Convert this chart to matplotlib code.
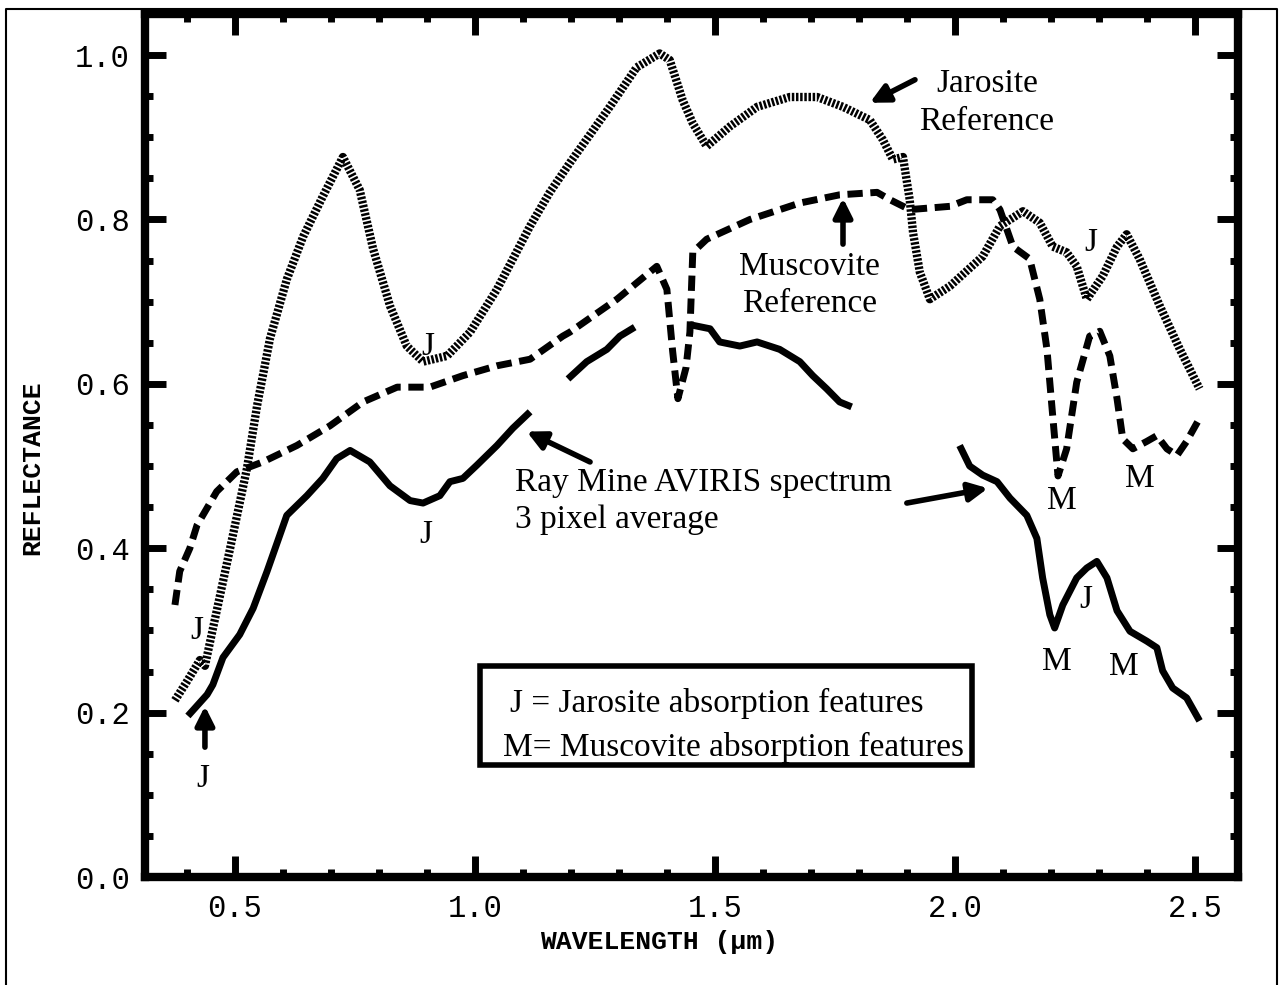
import matplotlib
matplotlib.use("Agg")
import matplotlib.pyplot as plt
from matplotlib.lines import Line2D
from matplotlib.patches import Rectangle
from matplotlib.ticker import MultipleLocator, FormatStrFormatter

# --- data (wavelength in um, reflectance) ---
jar_wl = [0.375, 0.400, 0.427, 0.4375, 0.490, 0.525, 0.546, 0.573, 0.608, 0.642,
          0.683, 0.725, 0.760, 0.788, 0.823, 0.858, 0.892, 0.942, 0.990, 1.046,
          1.115, 1.156, 1.198, 1.281, 1.337, 1.385, 1.406, 1.433, 1.454, 1.483,
          1.531, 1.588, 1.656, 1.713, 1.767, 1.823, 1.850, 1.871, 1.892, 1.906,
          1.913, 1.927, 1.948, 1.990, 2.058, 2.094, 2.142, 2.177, 2.204, 2.233,
          2.254, 2.275, 2.308, 2.338, 2.358, 2.385, 2.427, 2.469, 2.510]
jar_refl = [0.215, 0.238, 0.264, 0.257, 0.400, 0.497, 0.573, 0.655, 0.727, 0.779,
            0.828, 0.876, 0.836, 0.764, 0.695, 0.646, 0.627, 0.634, 0.663, 0.715,
            0.792, 0.833, 0.869, 0.937, 0.985, 1.002, 0.994, 0.945, 0.917, 0.889,
            0.913, 0.937, 0.949, 0.949, 0.937, 0.921, 0.897, 0.873, 0.876, 0.824,
            0.784, 0.736, 0.703, 0.719, 0.755, 0.792, 0.810, 0.796, 0.767, 0.760,
            0.743, 0.703, 0.731, 0.767, 0.782, 0.752, 0.695, 0.642, 0.594]

mus_wl = [0.375, 0.385, 0.406, 0.421, 0.462, 0.504, 0.558, 0.629, 0.698, 0.767,
          0.838, 0.906, 0.975, 1.046, 1.115, 1.183, 1.198, 1.296, 1.379, 1.400,
          1.412, 1.423, 1.440, 1.448, 1.454, 1.483, 1.573, 1.677, 1.760, 1.838,
          1.865, 1.906, 1.990, 2.025, 2.079, 2.094, 2.121, 2.156, 2.177, 2.192,
          2.204, 2.215, 2.233, 2.254, 2.281, 2.302, 2.323, 2.338, 2.350, 2.371,
          2.400, 2.421, 2.442, 2.463, 2.483, 2.506]
mus_refl = [0.331, 0.372, 0.400, 0.428, 0.469, 0.493, 0.505, 0.525, 0.549, 0.578,
            0.596, 0.596, 0.610, 0.622, 0.630, 0.658, 0.663, 0.703, 0.743, 0.715,
            0.640, 0.582, 0.620, 0.663, 0.760, 0.776, 0.800, 0.820, 0.830, 0.833,
            0.824, 0.812, 0.816, 0.824, 0.824, 0.812, 0.767, 0.752, 0.703, 0.642,
            0.561, 0.488, 0.521, 0.602, 0.658, 0.664, 0.634, 0.582, 0.533, 0.521,
            0.530, 0.537, 0.521, 0.513, 0.530, 0.554]

# Ray Mine AVIRIS spectrum, broken at the atmospheric water bands
ray1_wl = [0.402, 0.442, 0.454, 0.475, 0.510, 0.538, 0.567, 0.608, 0.650, 0.683,
           0.712, 0.740, 0.781, 0.823, 0.865, 0.892, 0.927, 0.948, 0.975, 1.004,
           1.046, 1.079, 1.115]
ray1_refl = [0.196, 0.222, 0.234, 0.267, 0.295, 0.327, 0.372, 0.440, 0.464, 0.485,
             0.509, 0.519, 0.505, 0.476, 0.458, 0.455, 0.464, 0.481, 0.485, 0.501,
             0.525, 0.546, 0.566]
ray2_wl = [1.194, 1.233, 1.275, 1.302, 1.333]
ray2_refl = [0.606, 0.627, 0.642, 0.658, 0.669]
ray3_wl = [1.448, 1.490, 1.510, 1.552, 1.588, 1.635, 1.677, 1.704, 1.733, 1.760, 1.785]
ray3_refl = [0.672, 0.667, 0.651, 0.646, 0.651, 0.642, 0.627, 0.610, 0.594, 0.578, 0.572]
ray4_wl = [2.010, 2.031, 2.058, 2.088, 2.115, 2.150, 2.171, 2.183, 2.198, 2.208,
           2.225, 2.254, 2.275, 2.296, 2.317, 2.338, 2.365, 2.400, 2.421, 2.433,
           2.454, 2.483, 2.510]
ray4_refl = [0.525, 0.500, 0.489, 0.481, 0.461, 0.440, 0.412, 0.364, 0.319, 0.303,
             0.331, 0.364, 0.376, 0.384, 0.364, 0.324, 0.299, 0.287, 0.279, 0.251,
             0.230, 0.218, 0.190]

x_ticks = [0.5, 1.0, 1.5, 2.0, 2.5]
y_ticks = [0.0, 0.2, 0.4, 0.6, 0.8, 1.0]

SERIF = "Liberation Serif"
MONO = "Liberation Mono"

fig = plt.figure(figsize=(12.85, 9.85), dpi=100)
ax = fig.add_axes([0.1128, 0.1096, 0.8506, 0.8762])

# jarosite: fine hatched line, muscovite: heavy dashes, AVIRIS: solid
ax.plot(jar_wl, jar_refl, color="black", lw=6, linestyle=(0, (0.3, 0.2)),
        dash_capstyle="butt", solid_joinstyle="round")
ax.plot(mus_wl, mus_refl, color="black", lw=5, linestyle=(0, (2.2, 1.1)),
        dash_capstyle="butt")
for wl, r in [(ray1_wl, ray1_refl), (ray2_wl, ray2_refl),
              (ray3_wl, ray3_refl), (ray4_wl, ray4_refl)]:
    ax.plot(wl, r, color="black", lw=5, solid_capstyle="butt", solid_joinstyle="round")

ax.set_xlim(0.3125, 2.59)
ax.set_ylim(0.0, 1.05)
ax.set_xticks(x_ticks)
ax.set_yticks(y_ticks)
ax.xaxis.set_minor_locator(MultipleLocator(0.1))
ax.yaxis.set_minor_locator(MultipleLocator(0.05))
ax.xaxis.set_major_formatter(FormatStrFormatter("%.1f"))
ax.yaxis.set_major_formatter(FormatStrFormatter("%.1f"))
ax.tick_params(which="both", direction="in", top=True, right=True, color="black")
ax.tick_params(which="major", length=15, width=5)
ax.tick_params(which="minor", length=6, width=5)
ax.tick_params(axis="x", which="major", pad=12)
ax.tick_params(axis="y", which="major", pad=11)
for lab in ax.get_xticklabels() + ax.get_yticklabels():
    lab.set_fontfamily(MONO)
    lab.set_fontsize(22)
for sp in ax.spines.values():
    sp.set_linewidth(6)

fig.text(0.025, 0.525, "REFLECTANCE", rotation=90, ha="center", va="center",
         family=MONO, fontweight="bold", fontsize=19)
fig.text(0.513, 0.044, "WAVELENGTH (\u00b5m)", ha="center", va="center",
         family=MONO, fontweight="bold", fontsize=19)

# annotations
txt = dict(family=SERIF, fontsize=24, color="black")
arrow = dict(arrowstyle="-|>", lw=4, color="black", mutation_scale=28,
             shrinkA=0, shrinkB=0)

ax.text(2.067, 0.942, "Jarosite\nReference", ha="center", va="center",
        linespacing=1.3, **txt)
ax.annotate("", xy=(1.823, 0.942), xytext=(1.917, 0.970), arrowprops=arrow)

ax.text(1.698, 0.720, "Muscovite\nReference", ha="center", va="center",
        linespacing=1.3, **txt)
ax.annotate("", xy=(1.767, 0.826), xytext=(1.767, 0.770), arrowprops=arrow)

ax.text(1.083, 0.457, "Ray Mine AVIRIS spectrum\n3 pixel average", ha="left",
        va="center", linespacing=1.3, **txt)
ax.annotate("", xy=(1.108, 0.542), xytext=(1.240, 0.505), arrowprops=arrow)
ax.annotate("", xy=(2.069, 0.473), xytext=(1.900, 0.455), arrowprops=arrow)
ax.annotate("", xy=(0.4375, 0.208), xytext=(0.4375, 0.158), arrowprops=arrow)

j_pos = [(0.902, 0.645), (0.898, 0.416), (0.421, 0.300), (0.433, 0.119),
         (2.283, 0.772), (2.273, 0.337)]
m_pos = [(2.223, 0.458), (2.385, 0.485), (2.213, 0.262), (2.352, 0.256)]
for x, y in j_pos:
    ax.text(x, y, "J", ha="center", va="center", **txt)
for x, y in m_pos:
    ax.text(x, y, "M", ha="center", va="center", **txt)

# key box
ax.add_patch(Rectangle((1.010, 0.136), 1.025, 0.121, fill=False, lw=4,
                       edgecolor="black", zorder=3))
ax.text(1.073, 0.211, "J = Jarosite absorption features", ha="left", va="center", **txt)
ax.text(1.058, 0.158, "M= Muscovite absorption features", ha="left", va="center", **txt)

# thin outer border of the scanned page
fig.add_artist(Line2D([6 / 1285, 6 / 1285, 1277 / 1285, 1277 / 1285],
                      [0, 1 - 9 / 985, 1 - 9 / 985, 0],
                      transform=fig.transFigure, color="black", lw=1.5))

fig.savefig("out.png", dpi=100)
